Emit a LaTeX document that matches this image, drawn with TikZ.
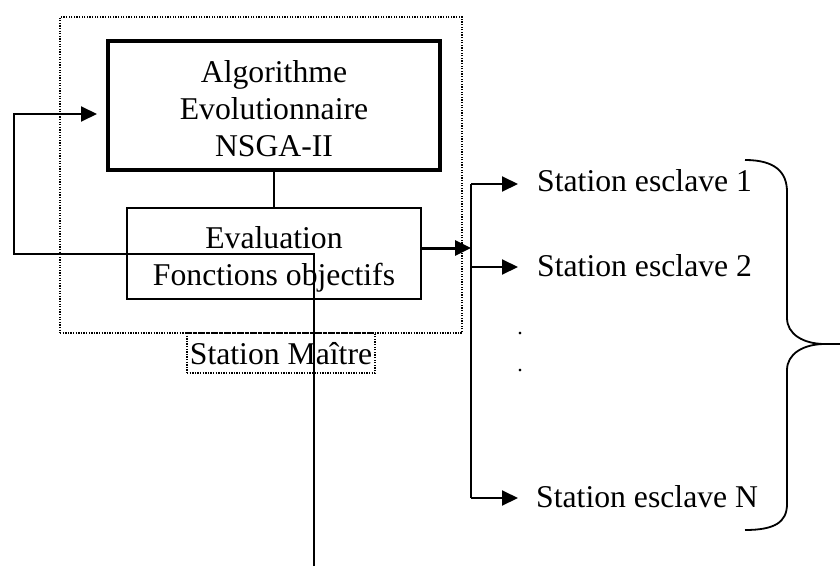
\documentclass[tikz,border=0pt]{standalone}
\usepackage{fontspec}
\setmainfont{Liberation Serif}
\usetikzlibrary{arrows.meta}
\begin{document}
\begin{tikzpicture}[x=1pt,y=-1pt,
  txt/.style={font=\fontsize{31.7}{37}\selectfont, inner sep=0pt, anchor=base},
  conn/.style={line width=2pt},
  arr/.style={conn,-{Triangle[length=16pt,width=15pt]}},
  dotbox/.style={draw, dash pattern=on 1.3pt off 1.3pt, line width=1.3pt, inner sep=0pt},
  algobox/.style={draw, line width=4pt, inner sep=0pt},
  evalbox/.style={draw, line width=1.6pt, inner sep=0pt},
  smalldot/.style={font=\fontsize{22}{22}\selectfont, inner sep=0pt, anchor=base}
]
\useasboundingbox (0,0) rectangle (840,570);

% boxes
\node[dotbox, minimum width=402pt, minimum height=316pt] (outer) at (261,175) {};
\node[algobox, minimum width=332pt, minimum height=129pt] (algo) at (274,105.5) {};
\node[evalbox, minimum width=294pt, minimum height=91pt] (eval) at (274,253.5) {};
\node[dotbox, minimum width=188pt, minimum height=40pt] (maitre) at (281,353) {};

% texts
\node[txt] (t1) at (274,82) {Algorithme};
\node[txt] (t2) at (274,119) {Evolutionnaire};
\node[txt] (t3) at (274,156) {NSGA-II};
\node[txt] (t4) at (274,248) {Evaluation};
\node[txt] (t5) at (274,285) {Fonctions objectifs};
\node[txt] (t6) at (281,364) {Station Ma\^{\i}tre};
\node[txt, anchor=base west] (s1) at (537,191) {Station esclave 1};
\node[txt, anchor=base west] (s2) at (537,276) {Station esclave 2};
\node[txt, anchor=base west] (sn) at (536,507) {Station esclave N};
\node[smalldot] (d1) at (520,334) {.};
\node[smalldot] (d2) at (520,371) {.};

% link algo - eval
\draw[conn, line width=1.6pt] (algo.south) -- (eval.north);

% feedback loop
\coordinate (fbstart) at (314,566);
\coordinate (fbend) at (97,114);
\draw[arr] (fbstart) -- (314,254) -- (14,254) -- (14,114) -- (fbend);

% bus
\coordinate (bustop) at (471,184);
\coordinate (bus2) at (471,267);
\coordinate (busbot) at (471,498);
\coordinate (busin) at (471,248);
\coordinate (a1) at (518,184);
\coordinate (a2) at (518,267);
\coordinate (an) at (518,498);
\draw[conn, line width=3pt, -{Triangle[length=16pt,width=15pt]}] (eval.east |- busin) -- (busin);
\draw[conn] (bustop) -- (busbot);
\draw[arr] (bustop) -- (a1);
\draw[arr] (bus2) -- (a2);
\draw[arr] (busbot) -- (an);

% brace
\coordinate (btip) at (825,344);
\coordinate (bout) at (840,344);
\draw[line width=1.8pt]
  (745,160) .. controls (775,160) and (787,172) .. (787,192) -- (787,318)
  .. controls (787,334) and (803,344) .. (btip) -- (bout);
\draw[line width=1.8pt]
  (btip) .. controls (803,344) and (787,354) .. (787,370) -- (787,504)
  .. controls (787,522) and (775,530) .. (745,530);
\end{tikzpicture}
\end{document}
